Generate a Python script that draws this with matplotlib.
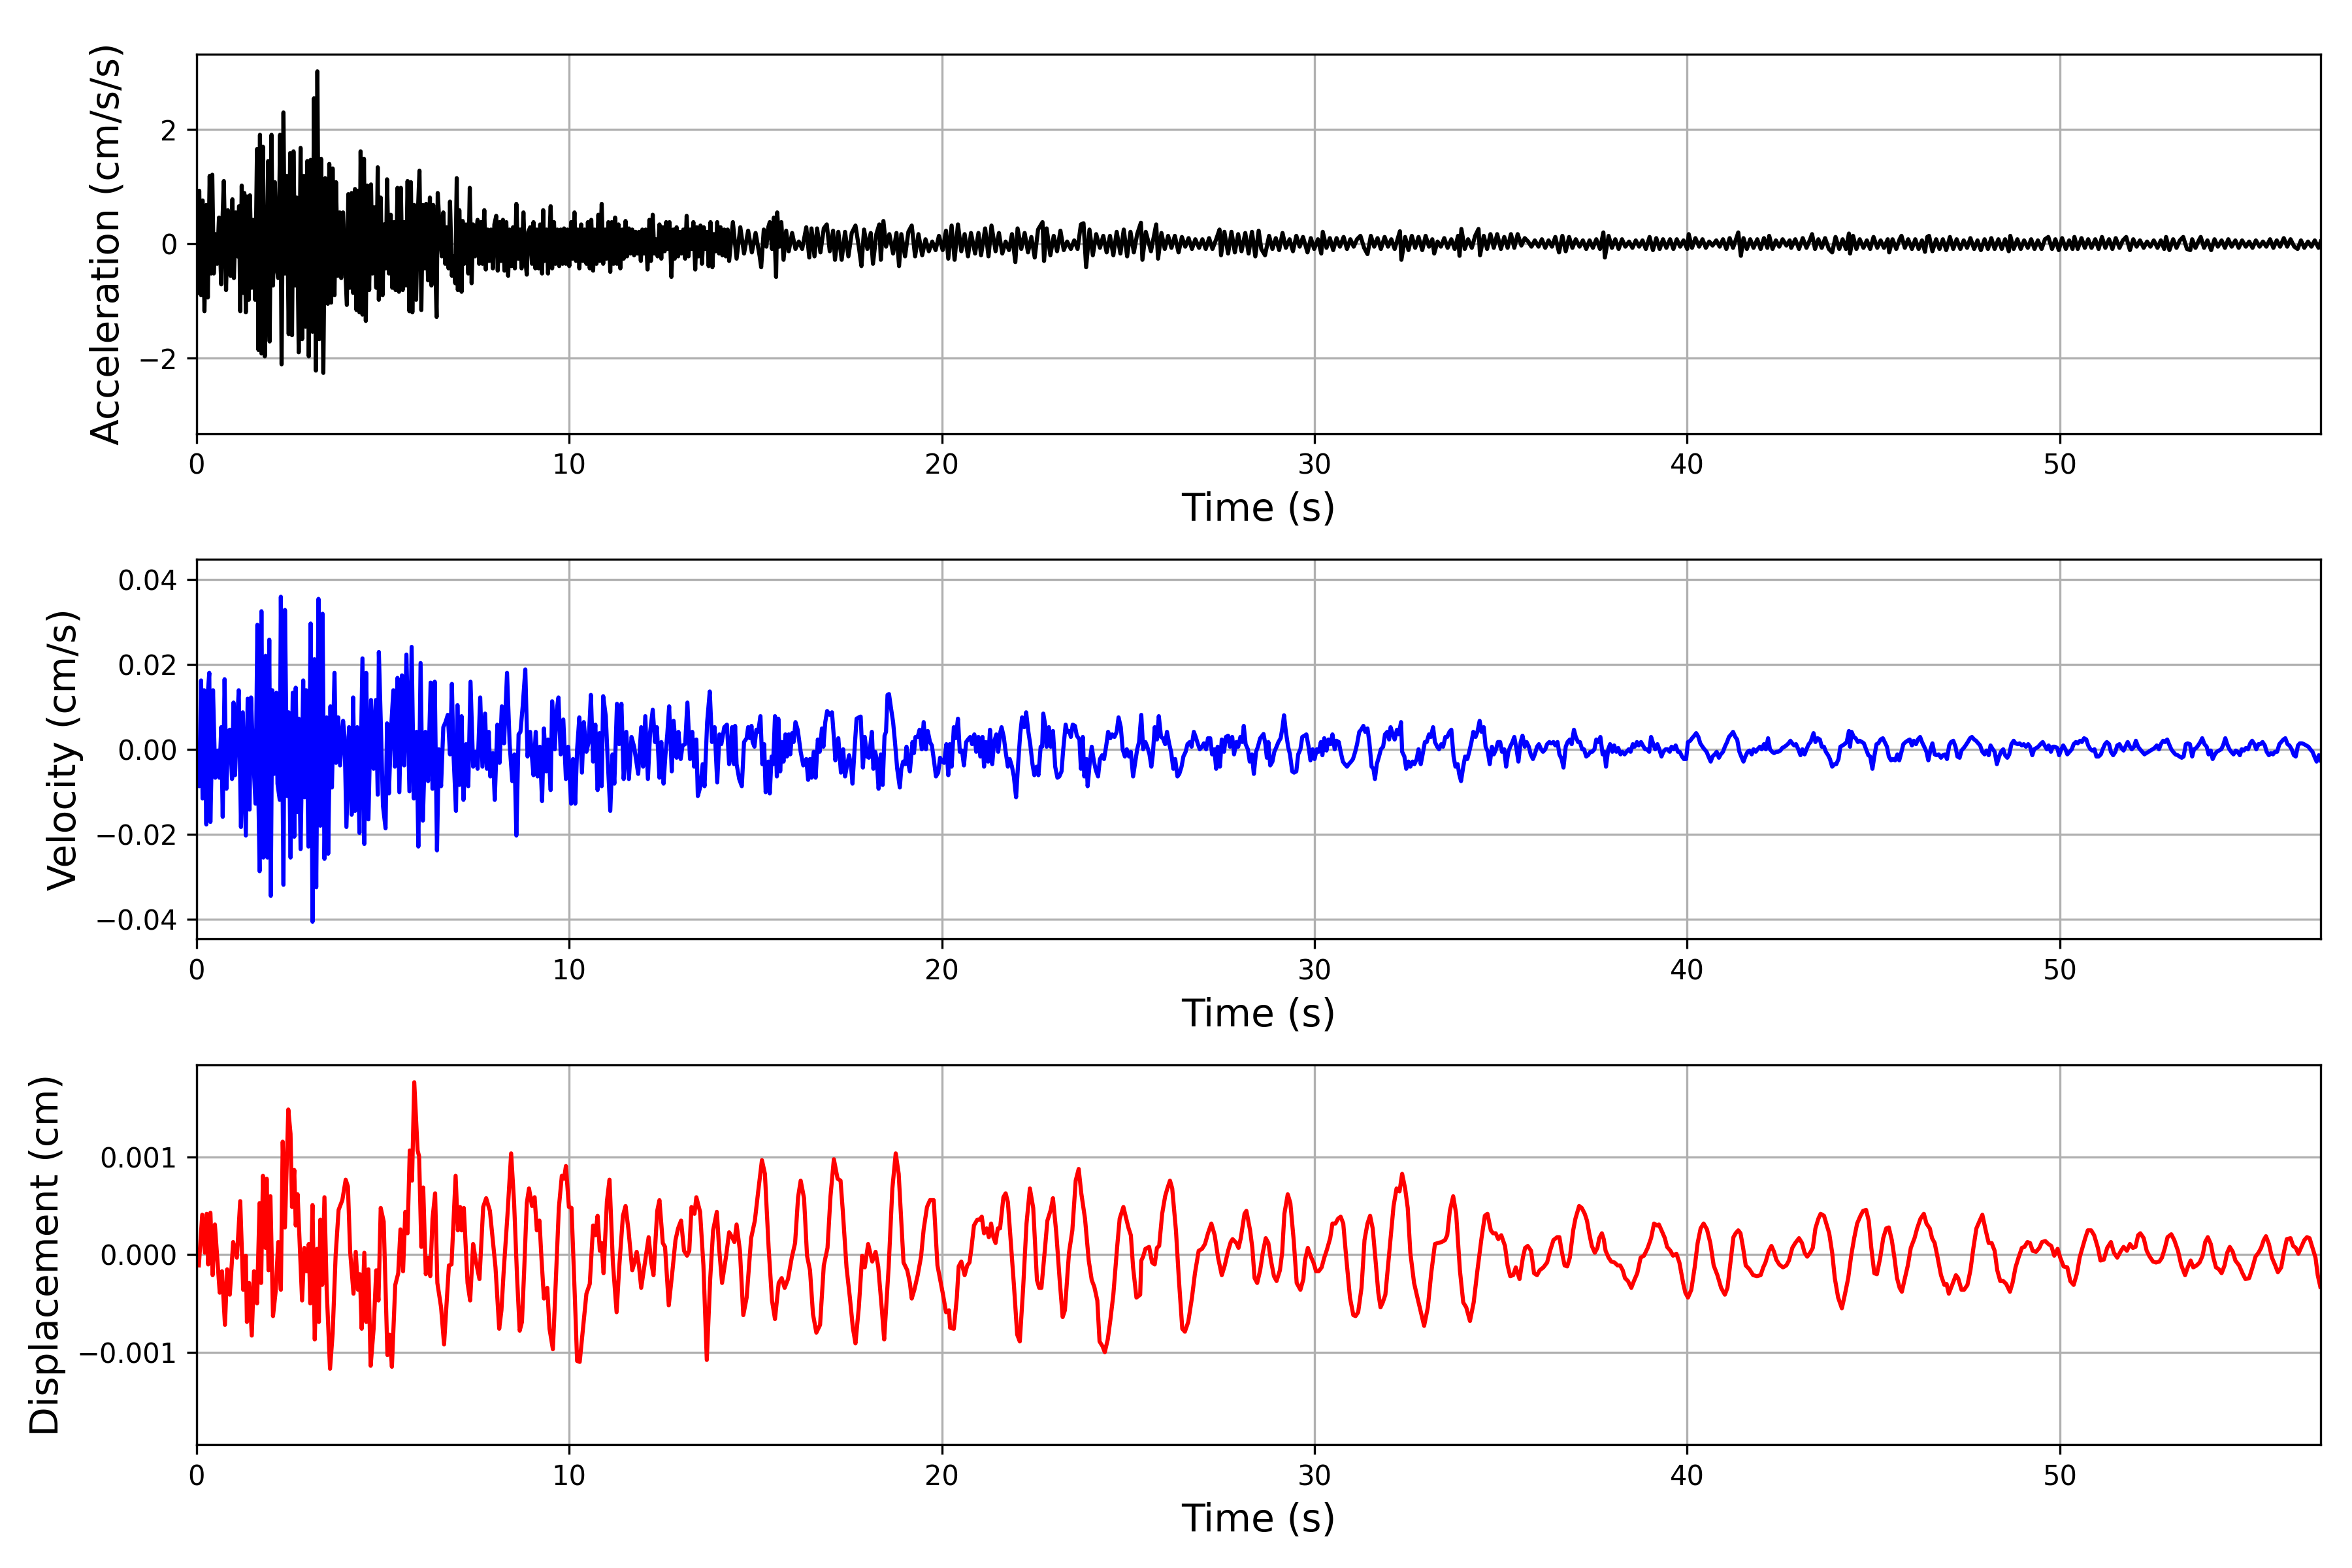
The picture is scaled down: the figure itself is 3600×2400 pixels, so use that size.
import numpy as np
import matplotlib.pyplot as plt

# values, as (time s, value) pairs

# acceleration, cm/s/s
acc_0_14 = [
    (0.03, -0.86), (0.07, 0.93), (0.12, -0.90), (0.16, 0.76), (0.21, -1.18), (0.26, 0.68), (0.30, -0.94),
    (0.35, 1.19), (0.39, -0.52), (0.42, 1.21), (0.46, -0.52), (0.50, 0.17), (0.55, -0.35), (0.60, 0.46),
    (0.66, -0.71), (0.69, 0.34), (0.73, 1.10), (0.79, -0.81), (0.84, 0.59), (0.88, -0.22), (0.91, -0.56),
    (0.96, 0.78), (1.00, -0.60), (1.05, 0.55), (1.10, -0.22), (1.14, 0.66), (1.17, -1.18), (1.21, 1.02),
    (1.25, -0.86), (1.28, 0.89), (1.32, -1.20), (1.35, 0.83), (1.40, -0.98), (1.43, 0.85), (1.48, -0.77),
    (1.52, 0.42), (1.57, -0.98), (1.62, 1.66), (1.66, -1.86), (1.70, 1.91), (1.74, -1.92), (1.78, 1.70),
    (1.83, -1.97), (1.87, -0.94), (1.92, 1.45), (1.96, -1.71), (2.01, 1.91), (2.05, -0.73), (2.10, 1.08),
    (2.15, -0.43), (2.19, -0.60), (2.24, 1.91), (2.28, -2.11), (2.33, 2.30), (2.37, -0.52), (2.42, 1.19),
    (2.47, -1.58), (2.51, 1.59), (2.56, -1.60), (2.60, 1.62), (2.65, -0.73), (2.69, 0.81), (2.74, -1.90),
    (2.79, 1.68), (2.83, -1.67), (2.88, 1.19), (2.92, -1.45), (2.97, 1.45), (3.01, -1.97), (3.06, 1.47),
    (3.11, -1.54), (3.15, 2.55), (3.20, -2.22), (3.24, 3.02), (3.29, -1.67), (3.34, 1.49), (3.40, -2.26),
    (3.45, 1.15), (3.52, -1.05), (3.56, 1.40), (3.61, -1.03), (3.65, 1.32), (3.70, -0.90), (3.74, 1.08),
    (3.79, -0.56), (3.84, 0.55), (3.88, -0.60), (3.93, 0.55), (3.98, -0.26), (4.03, -1.07), (4.07, 0.87),
    (4.11, -0.77), (4.16, 0.89), (4.20, -0.86), (4.25, 0.96), (4.29, -1.16), (4.33, 0.93), (4.37, -1.20),
    (4.40, 1.62), (4.45, -1.24), (4.49, 1.49), (4.54, -1.35), (4.58, 1.02), (4.63, -0.81), (4.68, 1.04),
    (4.72, -0.52), (4.77, 0.64), (4.82, -0.77), (4.86, 1.34), (4.89, -0.98), (4.94, 0.81), (4.99, -0.90),
    (5.03, 0.34), (5.08, -0.43), (5.11, 1.13), (5.16, -0.52), (5.21, 0.51), (5.25, -0.77), (5.30, 0.38),
    (5.34, -0.81), (5.39, 0.98), (5.43, -0.84), (5.48, 0.98), (5.53, -0.81), (5.57, 0.38), (5.62, -0.73),
    (5.66, 1.10), (5.71, -1.18), (5.75, 1.08), (5.79, -1.20), (5.84, 0.68), (5.89, -0.98), (5.94, 0.59),
    (5.98, 1.28), (6.03, -1.16), (6.07, 0.68), (6.12, -0.43), (6.16, 0.70), (6.21, -0.64), (6.26, 0.81),
    (6.30, -0.73), (6.35, 0.68), (6.39, 0.00), (6.44, -1.28), (6.47, 0.89), (6.53, 0.17), (6.58, -0.22),
    (6.62, 0.55), (6.67, -0.35), (6.71, 0.29), (6.76, -0.43), (6.80, 0.74), (6.85, -0.56), (6.89, -0.22),
    (6.94, -0.69), (6.98, 1.15), (7.01, -0.81), (7.05, 0.59), (7.11, -0.84), (7.14, 0.40), (7.18, -0.35),
    (7.23, 0.34), (7.29, -0.52), (7.33, 0.98), (7.38, -0.69), (7.42, 0.34), (7.47, -0.22), (7.51, 0.25),
    (7.54, 0.42), (7.58, -0.35), (7.63, 0.38), (7.67, -0.35), (7.72, 0.59), (7.76, -0.45), (7.81, 0.25),
    (7.85, -0.30), (7.90, 0.25), (7.95, -0.43), (7.99, 0.34), (8.04, 0.49), (8.08, -0.47), (8.13, 0.38),
    (8.17, -0.30), (8.22, 0.42), (8.26, -0.47), (8.31, 0.38), (8.36, -0.56), (8.40, 0.25), (8.45, -0.39),
    (8.49, 0.29), (8.54, -0.43), (8.58, 0.70), (8.63, -0.26), (8.68, 0.25), (8.72, -0.43), (8.77, 0.55),
    (8.81, -0.22), (8.86, -0.54), (8.90, 0.21), (8.95, 0.29), (9.00, -0.35), (9.04, 0.38), (9.09, -0.43),
    (9.13, 0.25), (9.18, -0.43), (9.22, 0.34), (9.27, -0.52), (9.30, 0.59), (9.33, -0.30), (9.39, 0.25),
    (9.43, -0.52), (9.50, 0.66), (9.54, -0.43), (9.59, 0.38), (9.63, -0.35), (9.68, 0.25), (9.73, -0.39),
    (9.77, 0.25), (9.82, -0.35), (9.86, 0.27), (9.91, -0.35), (9.95, 0.25), (10.00, -0.39), (10.05, 0.38),
    (10.09, -0.26), (10.14, 0.55), (10.18, -0.30), (10.23, 0.25), (10.27, -0.43), (10.32, 0.34), (10.37, -0.30),
    (10.41, 0.25), (10.46, -0.35), (10.50, 0.38), (10.55, -0.43), (10.59, 0.42), (10.64, -0.47), (10.68, 0.25),
    (10.73, -0.35), (10.78, 0.51), (10.82, -0.30), (10.87, 0.70), (10.91, -0.35), (10.96, 0.25), (11.00, -0.26),
    (11.05, 0.38), (11.10, -0.49), (11.14, 0.38), (11.19, -0.35), (11.23, 0.46), (11.28, -0.35), (11.32, 0.34),
    (11.37, -0.43), (11.42, 0.25), (11.46, -0.26), (11.51, 0.40), (11.55, -0.22), (11.60, 0.27), (11.64, -0.17),
    (11.69, 0.25), (11.74, -0.20), (11.78, 0.21), (11.83, -0.17), (11.87, 0.21), (11.92, -0.30), (11.96, 0.25),
    (12.01, -0.17), (12.05, 0.25), (12.10, -0.45), (12.15, 0.42), (12.19, -0.30), (12.24, 0.51), (12.28, -0.17),
    (12.33, 0.08), (12.37, -0.22), (12.42, 0.34), (12.47, -0.26), (12.51, 0.29), (12.56, -0.13), (12.60, 0.38),
    (12.65, -0.09), (12.69, 0.38), (12.74, -0.58), (12.79, 0.25), (12.83, -0.26), (12.88, 0.29), (12.92, -0.22),
    (12.97, 0.21), (13.01, -0.17), (13.06, 0.25), (13.11, -0.26), (13.15, 0.49), (13.20, -0.22), (13.24, 0.25),
    (13.29, -0.09), (13.33, 0.38), (13.38, -0.45), (13.42, 0.29), (13.47, -0.22), (13.52, 0.32), (13.56, -0.35),
    (13.61, 0.29), (13.65, -0.09), (13.70, 0.21), (13.74, -0.39), (13.79, 0.38), (13.84, -0.41), (13.88, 0.17),
    (13.93, -0.13), (13.97, 0.38), (14.02, -0.17), (14.06, 0.29), (14.11, -0.20), (14.16, 0.25), (14.20, -0.22),
    (14.25, 0.25),
]
acc_14_28 = [
    (14.29, -0.30), (14.39, 0.38), (14.49, -0.26), (14.59, 0.29), (14.69, -0.17), (14.80, 0.23), (14.90, -0.15),
    (15.00, 0.19), (15.11, -0.22), (15.15, -0.41), (15.22, 0.25), (15.29, -0.05), (15.34, 0.29), (15.38, 0.38),
    (15.44, -0.09), (15.49, 0.46), (15.55, -0.58), (15.58, 0.55), (15.64, -0.05), (15.69, 0.38), (15.75, -0.28),
    (15.82, 0.23), (15.89, -0.13), (15.98, 0.19), (16.07, -0.09), (16.16, 0.04), (16.25, -0.09), (16.36, 0.29),
    (16.44, -0.24), (16.50, 0.27), (16.58, -0.22), (16.65, 0.27), (16.74, -0.15), (16.83, 0.27), (16.91, 0.34),
    (16.99, -0.13), (17.08, 0.23), (17.13, -0.28), (17.22, 0.21), (17.31, -0.28), (17.40, 0.21), (17.49, -0.22),
    (17.58, 0.19), (17.68, 0.32), (17.77, -0.05), (17.84, -0.39), (17.91, 0.25), (18.00, -0.09), (18.09, 0.19),
    (18.15, -0.35), (18.24, 0.17), (18.32, 0.34), (18.36, -0.28), (18.43, 0.40), (18.50, -0.05), (18.59, 0.17),
    (18.69, -0.17), (18.78, 0.19), (18.85, -0.39), (18.91, 0.17), (19.01, -0.22), (19.10, 0.21), (19.19, 0.32),
    (19.28, -0.22), (19.37, 0.17), (19.47, -0.20), (19.56, 0.08), (19.65, -0.13), (19.74, 0.04), (19.83, -0.11),
    (19.92, 0.14), (20.02, -0.11), (20.11, 0.23), (20.17, -0.26), (20.26, 0.32), (20.34, -0.28), (20.43, 0.34),
    (20.52, -0.13), (20.61, 0.17), (20.70, -0.22), (20.78, 0.19), (20.89, -0.17), (20.98, 0.19), (21.05, -0.20),
    (21.16, 0.27), (21.25, -0.22), (21.33, 0.32), (21.44, -0.13), (21.53, 0.19), (21.62, -0.17), (21.71, 0.04),
    (21.80, -0.11), (21.88, 0.17), (21.97, -0.32), (22.03, 0.27), (22.13, -0.09), (22.22, 0.19), (22.31, -0.15),
    (22.40, 0.12), (22.49, -0.24), (22.58, 0.25), (22.70, 0.38), (22.74, -0.30), (22.81, 0.27), (22.91, -0.20),
    (23.00, 0.14), (23.09, -0.13), (23.18, 0.23), (23.27, -0.11), (23.36, 0.04), (23.46, -0.09), (23.55, 0.06),
    (23.64, -0.09), (23.73, 0.34), (23.80, 0.36), (23.87, -0.41), (23.96, 0.25), (24.05, -0.20), (24.14, 0.17),
    (24.24, -0.07), (24.33, 0.14), (24.42, -0.15), (24.51, 0.14), (24.60, -0.20), (24.69, 0.21), (24.79, -0.17),
    (24.88, 0.25), (24.97, -0.22), (25.06, 0.21), (25.15, -0.15), (25.24, 0.17), (25.34, 0.37), (25.38, -0.28),
    (25.47, 0.21), (25.61, -0.13), (25.75, 0.34), (25.80, -0.26), (25.89, 0.19), (25.98, -0.09), (26.07, 0.14),
    (26.16, -0.07), (26.25, 0.14), (26.35, -0.15), (26.44, 0.12), (26.53, -0.05), (26.62, 0.10), (26.71, -0.09),
    (26.80, 0.08), (26.90, -0.07), (26.99, 0.08), (27.08, -0.09), (27.17, 0.10), (27.26, -0.09), (27.36, 0.08),
    (27.45, 0.25), (27.49, -0.20), (27.58, 0.21), (27.68, -0.17), (27.77, 0.21), (27.86, -0.15), (27.95, 0.17),
    (28.04, -0.13), (28.14, 0.19), (28.23, -0.17), (28.32, 0.21), (28.41, -0.22), (28.50, 0.23),
]
acc_28_42 = [
    (28.57, -0.09), (28.67, -0.20), (28.78, 0.14), (28.87, -0.09), (28.96, 0.10), (29.05, -0.11), (29.14, 0.19),
    (29.23, -0.07), (29.33, 0.08), (29.42, -0.13), (29.51, 0.14), (29.60, -0.05), (29.69, 0.12), (29.81, -0.15),
    (29.90, 0.10), (29.99, -0.09), (30.09, 0.08), (30.18, -0.17), (30.22, 0.21), (30.32, -0.07), (30.41, 0.10),
    (30.50, -0.11), (30.59, 0.10), (30.68, -0.05), (30.78, 0.12), (30.87, -0.09), (30.96, 0.08), (31.05, -0.05),
    (31.14, 0.08), (31.23, 0.14), (31.33, -0.07), (31.42, -0.18), (31.51, 0.14), (31.60, -0.05), (31.69, 0.10),
    (31.78, -0.09), (31.88, 0.12), (31.97, -0.05), (32.06, 0.08), (32.15, -0.09), (32.29, 0.22), (32.33, -0.28),
    (32.43, 0.12), (32.52, -0.11), (32.61, 0.14), (32.70, -0.07), (32.79, 0.12), (32.89, -0.11), (32.98, 0.14),
    (33.07, -0.05), (33.16, 0.08), (33.21, -0.17), (33.30, 0.04), (33.39, -0.05), (33.48, 0.10), (33.57, -0.07),
    (33.67, 0.08), (33.76, -0.09), (33.85, 0.14), (33.89, -0.21), (33.94, 0.26), (34.03, -0.09), (34.12, 0.08),
    (34.22, -0.07), (34.31, 0.14), (34.40, 0.26), (34.44, -0.20), (34.54, 0.14), (34.63, -0.09), (34.72, 0.17),
    (34.81, -0.07), (34.90, 0.17), (35.00, -0.09), (35.09, 0.12), (35.18, -0.07), (35.27, 0.17), (35.36, -0.07),
    (35.45, 0.17), (35.55, -0.03), (35.64, 0.10), (35.73, 0.04), (35.82, -0.05), (35.91, 0.06), (36.01, -0.05),
    (36.10, 0.08), (36.19, -0.07), (36.28, 0.06), (36.37, -0.05), (36.46, 0.12), (36.56, -0.15), (36.65, 0.14),
    (36.74, -0.13), (36.83, 0.12), (36.92, -0.07), (37.01, 0.08), (37.11, -0.05), (37.20, 0.06), (37.29, -0.09),
    (37.38, 0.06), (37.47, -0.07), (37.56, 0.08), (37.66, -0.09), (37.75, 0.20), (37.79, -0.24), (37.89, 0.14),
    (37.98, -0.07), (38.07, 0.08), (38.16, -0.09), (38.25, 0.08), (38.34, -0.05), (38.44, 0.04), (38.53, -0.07),
    (38.62, 0.06), (38.71, -0.05), (38.80, 0.06), (38.89, -0.09), (38.99, 0.12), (39.08, -0.11), (39.17, 0.10),
    (39.26, -0.09), (39.35, 0.08), (39.44, -0.07), (39.54, 0.08), (39.63, -0.09), (39.72, 0.08), (39.81, -0.05),
    (39.90, 0.06), (40.00, -0.09), (40.04, 0.17), (40.13, -0.07), (40.22, 0.10), (40.32, -0.05), (40.41, 0.08),
    (40.50, -0.07), (40.59, 0.04), (40.68, -0.03), (40.78, 0.06), (40.87, -0.05), (40.96, 0.08), (41.05, -0.09),
    (41.14, 0.10), (41.23, -0.07), (41.33, 0.12), (41.37, 0.20), (41.44, -0.21), (41.51, 0.10), (41.60, -0.09),
    (41.69, 0.08), (41.78, -0.07), (41.88, 0.08), (41.97, -0.09), (42.06, 0.10), (42.15, -0.07), (42.20, 0.14),
    (42.29, -0.09), (42.38, 0.06), (42.47, -0.05), (42.56, 0.08), (42.66, -0.03), (42.75, 0.06),
]
acc_42_57 = [
    (42.79, -0.07), (42.90, 0.08), (43.00, -0.09), (43.10, 0.10), (43.20, -0.07), (43.30, 0.08), (43.35, 0.17),
    (43.43, -0.09), (43.52, 0.08), (43.61, -0.07), (43.70, 0.10), (43.80, -0.09), (43.89, -0.15), (43.98, 0.12),
    (44.08, -0.09), (44.17, 0.08), (44.26, -0.09), (44.34, 0.18), (44.37, -0.17), (44.45, 0.14), (44.54, -0.09),
    (44.63, 0.08), (44.73, -0.07), (44.82, 0.06), (44.91, -0.09), (45.00, 0.12), (45.10, -0.07), (45.19, 0.06),
    (45.28, -0.07), (45.38, 0.08), (45.42, -0.15), (45.51, 0.08), (45.61, -0.09), (45.70, 0.08), (45.75, 0.14),
    (45.84, -0.07), (45.93, 0.08), (46.03, -0.09), (46.12, 0.08), (46.21, -0.09), (46.30, 0.06), (46.38, -0.14),
    (46.44, 0.12), (46.49, 0.14), (46.58, -0.13), (46.68, 0.08), (46.77, -0.09), (46.86, 0.08), (46.95, -0.11),
    (47.05, 0.12), (47.14, -0.09), (47.23, 0.08), (47.33, -0.09), (47.42, 0.06), (47.51, -0.07), (47.60, 0.10),
    (47.70, -0.09), (47.79, 0.06), (47.88, -0.11), (47.98, 0.08), (48.07, -0.09), (48.16, 0.10), (48.25, -0.09),
    (48.35, 0.08), (48.44, -0.09), (48.53, 0.08), (48.63, -0.13), (48.67, 0.14), (48.76, -0.09), (48.86, 0.08),
    (48.95, -0.09), (49.04, 0.06), (49.14, -0.07), (49.23, 0.08), (49.32, -0.09), (49.41, 0.06), (49.51, -0.09),
    (49.60, 0.08), (49.69, 0.12), (49.79, -0.09), (49.88, 0.08), (49.97, -0.11), (50.06, 0.10), (50.16, -0.09),
    (50.25, 0.06), (50.34, -0.09), (50.39, 0.12), (50.48, -0.09), (50.58, 0.10), (50.67, -0.07), (50.76, 0.08),
    (50.85, -0.07), (50.95, 0.08), (51.04, -0.09), (51.13, 0.12), (51.22, -0.07), (51.32, 0.08), (51.41, -0.09),
    (51.50, 0.10), (51.60, -0.07), (51.69, 0.06), (51.78, 0.12), (51.88, -0.11), (51.97, 0.08), (52.06, -0.05),
    (52.15, 0.06), (52.25, -0.07), (52.34, 0.04), (52.43, -0.05), (52.52, 0.06), (52.62, -0.07), (52.71, 0.06),
    (52.80, -0.09), (52.85, 0.12), (52.94, -0.11), (53.04, 0.08), (53.13, -0.07), (53.22, 0.06), (53.31, 0.12),
    (53.41, -0.09), (53.50, -0.11), (53.55, 0.08), (53.64, -0.07), (53.73, 0.06), (53.78, 0.12), (53.87, -0.07),
    (53.96, 0.06), (54.06, -0.11), (54.15, 0.08), (54.24, -0.05), (54.34, 0.06), (54.43, -0.07), (54.52, 0.08),
    (54.61, -0.05), (54.71, 0.06), (54.80, -0.07), (54.89, 0.06), (54.99, -0.05), (55.08, 0.04), (55.17, -0.07),
    (55.26, 0.06), (55.36, -0.05), (55.45, 0.04), (55.54, -0.05), (55.64, 0.08), (55.73, -0.07), (55.82, 0.06),
    (55.91, -0.05), (56.01, 0.10), (56.10, -0.05), (56.19, 0.08), (56.29, -0.05), (56.38, -0.09), (56.47, 0.06),
    (56.56, -0.07), (56.66, 0.04), (56.75, -0.05), (56.84, 0.06), (56.94, -0.07), (57.00, 0.04),
]

# velocity, in units of 0.01 cm/s
vel_0_14 = [
    (0.00, 0.00), (0.07, -0.87), (0.12, 1.62), (0.16, -1.16), (0.20, 1.39), (0.26, -1.77), (0.30, 1.33),
    (0.34, 1.80), (0.37, -1.71), (0.41, 0.00), (0.44, 1.39), (0.50, -0.67), (0.57, -0.03), (0.61, -0.67),
    (0.66, 0.52), (0.70, -1.59), (0.75, 1.65), (0.80, -0.93), (0.85, 0.43), (0.89, 0.46), (0.95, -0.70),
    (0.99, 1.10), (1.03, -0.61), (1.08, 0.52), (1.13, 1.39), (1.19, -1.83), (1.24, 0.87), (1.32, -2.03),
    (1.37, 1.19), (1.42, -1.42), (1.46, 1.22), (1.51, 0.00), (1.58, -1.28), (1.63, 2.93), (1.66, -1.22),
    (1.69, -2.87), (1.74, 3.25), (1.79, -2.55), (1.85, 2.20), (1.90, -2.55), (1.95, 2.58), (1.99, -3.45),
    (2.03, 1.39), (2.08, -0.58), (2.14, 1.33), (2.17, -0.81), (2.23, -1.19), (2.26, 3.59), (2.33, -3.19),
    (2.37, 3.28), (2.43, -1.10), (2.47, 0.87), (2.52, -2.55), (2.58, 1.33), (2.62, -2.06), (2.66, 1.45),
    (2.71, -1.48), (2.74, 0.72), (2.79, -2.35), (2.86, 1.62), (2.90, -1.13), (2.94, 1.39), (3.00, -2.29),
    (3.06, 2.96), (3.11, -4.06), (3.16, 2.12), (3.21, -3.25), (3.27, 3.54), (3.32, -1.80), (3.38, 3.19),
    (3.43, -2.58), (3.49, 0.75), (3.53, -2.46), (3.59, 1.01), (3.63, -0.90), (3.70, 1.80), (3.74, -0.32),
    (3.80, 0.75), (3.85, -0.38), (3.93, 0.67), (3.97, 0.29), (4.02, -1.83), (4.09, 0.52), (4.16, -1.54),
    (4.20, 1.22), (4.25, -1.45), (4.31, 0.52), (4.37, -1.97), (4.45, 2.14), (4.50, -2.23), (4.55, 1.80),
    (4.61, -1.65), (4.68, 1.16), (4.75, -0.46), (4.81, 1.16), (4.86, -1.07), (4.89, 2.29), (4.94, 0.70),
    (5.00, -1.33), (5.07, -1.86), (5.11, 0.61), (5.16, -1.04), (5.22, 0.52), (5.28, 1.39), (5.32, -0.41),
    (5.39, 1.68), (5.44, -1.01), (5.51, 1.74), (5.57, -0.38), (5.63, 2.23), (5.71, -0.99), (5.77, 2.41),
    (5.83, -1.16), (5.90, 0.41), (5.95, -2.29), (6.01, 2.03), (6.07, -1.68), (6.14, 0.41), (6.21, -0.75),
    (6.28, 1.57), (6.33, -0.93), (6.39, 1.59), (6.45, -2.38), (6.50, 0.00), (6.56, -0.87), (6.62, 0.52),
    (6.68, 0.64), (6.74, 0.81), (6.80, -0.12), (6.85, 1.54), (6.89, -0.06), (6.96, -1.45), (7.00, 1.04),
    (7.05, -0.84), (7.11, 0.78), (7.16, -1.19), (7.23, 0.12), (7.29, -0.87), (7.35, 1.59), (7.42, -0.41),
    (7.49, -0.06), (7.54, -0.46), (7.61, 1.22), (7.67, -0.41), (7.74, 0.84), (7.79, -0.46), (7.84, 0.41),
    (7.88, -0.64), (7.95, -0.09), (8.00, -1.19), (8.07, 0.58), (8.13, -0.32), (8.19, 1.01), (8.25, 0.14),
    (8.33, 1.80), (8.40, 0.12), (8.47, -0.75), (8.53, -0.12), (8.58, -2.03), (8.64, 0.35), (8.69, 0.41),
    (8.75, 1.01), (8.82, 1.88), (8.88, -0.17), (8.95, 0.41), (9.00, -0.20), (9.04, -0.61), (9.10, 0.41),
    (9.15, -0.64), (9.21, 0.06), (9.27, -1.22), (9.32, 0.49), (9.38, -0.52), (9.43, 0.23), (9.50, -0.96),
    (9.54, 1.13), (9.61, 0.00), (9.66, 0.90), (9.71, 1.22), (9.77, -0.12), (9.84, 0.70), (9.91, -0.70),
    (9.97, 0.06), (10.05, -1.28), (10.10, -0.23), (10.16, -1.28), (10.21, 0.00), (10.27, 0.75), (10.34, -0.55),
    (10.39, 0.64), (10.46, -0.06), (10.52, 0.17), (10.58, 1.28), (10.64, -0.29), (10.70, 0.58), (10.76, -0.96),
    (10.81, 0.38), (10.87, -0.87), (10.91, 1.25), (10.98, 0.78), (11.03, -0.23), (11.10, -1.45), (11.16, -0.12),
    (11.21, -0.81), (11.28, 1.07), (11.34, 0.12), (11.40, 1.07), (11.46, -0.70), (11.53, 0.41), (11.60, -0.70),
    (11.67, 0.29), (11.74, 0.06), (11.80, -0.29), (11.85, -0.58), (11.93, 0.52), (11.98, -0.41), (12.04, 0.78),
    (12.11, -0.70), (12.17, 0.41), (12.24, 0.93), (12.30, 0.17), (12.35, 0.52), (12.42, -0.67), (12.47, 0.17),
    (12.53, -0.81), (12.58, -0.14), (12.63, 0.35), (12.68, 1.01), (12.75, -0.52), (12.80, 0.67), (12.88, -0.20),
    (12.93, 0.41), (12.99, -0.23), (13.04, 0.09), (13.11, 0.12), (13.17, 1.10), (13.24, -0.23), (13.30, 0.41),
    (13.35, -0.41), (13.41, 0.23), (13.45, -1.10), (13.52, -0.87), (13.58, -0.35), (13.63, -0.87), (13.70, 0.64),
    (13.77, 1.36), (13.83, 0.17), (13.90, 0.52), (13.97, -0.78), (14.03, 0.35), (14.08, 0.12), (14.16, 0.52),
    (14.23, 0.58), (14.29, -0.35),
]
vel_14_28 = [
    (14.33, -0.17), (14.37, 0.52), (14.42, -0.35), (14.45, 0.55), (14.49, -0.35), (14.56, -0.70), (14.63, -0.87),
    (14.69, 0.17), (14.76, 0.26), (14.80, 0.52), (14.85, 0.26), (14.89, 0.55), (14.92, 0.17), (14.97, 0.06),
    (15.02, 0.46), (15.07, 0.41), (15.13, 0.78), (15.18, -0.35), (15.23, 0.12), (15.27, -1.01), (15.34, -0.29),
    (15.38, -1.04), (15.43, -0.17), (15.47, -0.35), (15.52, 0.78), (15.57, -0.64), (15.61, 0.72), (15.66, -0.52),
    (15.70, 0.17), (15.75, -0.29), (15.80, 0.35), (15.84, -0.17), (15.89, 0.35), (15.93, -0.12), (15.98, 0.38),
    (16.02, 0.17), (16.07, 0.64), (16.13, 0.46), (16.21, -0.06), (16.28, -0.38), (16.36, -0.23), (16.41, -0.72),
    (16.46, -0.23), (16.50, -0.67), (16.56, -0.06), (16.61, -0.67), (16.67, 0.23), (16.72, -0.06), (16.78, 0.49),
    (16.82, 0.06), (16.87, 0.64), (16.92, 0.90), (16.99, 0.81), (17.05, 0.87), (17.11, 0.17), (17.14, -0.26),
    (17.22, 0.26), (17.29, -0.55), (17.35, 0.00), (17.40, -0.64), (17.46, -0.35), (17.51, -0.14), (17.56, -0.38),
    (17.60, -0.81), (17.66, 0.06), (17.71, 0.72), (17.77, 0.75), (17.82, 0.77), (17.88, -0.43), (17.93, 0.29),
    (17.99, -0.17), (18.04, -0.20), (18.12, 0.41), (18.16, -0.46), (18.21, -0.06), (18.25, -0.23), (18.30, -0.93),
    (18.36, -0.12), (18.41, -0.84), (18.46, 0.32), (18.50, 0.41), (18.54, 1.28), (18.58, 1.30), (18.63, 0.99),
    (18.69, 0.64), (18.74, 0.17), (18.80, -0.46), (18.87, -0.90), (18.91, -0.46), (18.96, -0.29), (19.01, -0.35),
    (19.05, 0.06), (19.10, -0.35), (19.14, -0.52), (19.21, 0.17), (19.25, -0.09), (19.29, 0.29), (19.35, 0.29),
    (19.40, 0.46), (19.46, 0.00), (19.51, 0.64), (19.57, 0.00), (19.62, 0.43), (19.68, 0.17), (19.73, 0.09),
    (19.79, -0.29), (19.84, -0.64), (19.90, -0.55), (19.95, -0.20), (20.01, -0.29), (20.06, -0.32), (20.12, 0.12),
    (20.17, -0.61), (20.21, 0.12), (20.26, -0.41), (20.32, 0.52), (20.37, 0.26), (20.43, 0.72), (20.48, -0.06),
    (20.54, -0.03), (20.59, -0.38), (20.65, 0.17), (20.70, 0.23), (20.76, 0.29), (20.81, 0.12), (20.87, 0.35),
    (20.92, -0.06), (20.98, 0.29), (21.03, -0.17), (21.09, 0.29), (21.13, -0.41), (21.18, 0.17), (21.24, -0.29),
    (21.29, 0.46), (21.35, -0.35), (21.40, 0.17), (21.46, 0.35), (21.51, -0.06), (21.57, 0.41), (21.60, 0.52),
    (21.66, 0.29), (21.71, -0.06), (21.77, -0.41), (21.82, -0.23), (21.88, -0.41), (21.93, -0.64), (21.99, -1.13),
    (22.04, -0.41), (22.10, 0.35), (22.15, 0.75), (22.21, 0.52), (22.26, 0.87), (22.32, 0.41), (22.37, 0.12),
    (22.43, -0.35), (22.48, -0.61), (22.54, -0.41), (22.59, -0.61), (22.65, 0.06), (22.69, 0.06), (22.72, 0.84),
    (22.77, 0.58), (22.81, 0.06), (22.87, 0.52), (22.92, 0.06), (22.98, 0.43), (23.04, -0.41), (23.10, -0.67),
    (23.15, -0.64), (23.21, -0.52), (23.25, -0.06), (23.32, 0.58), (23.36, 0.41), (23.42, 0.43), (23.46, 0.29),
    (23.51, 0.58), (23.57, 0.55), (23.62, 0.32), (23.69, 0.23), (23.73, -0.46), (23.78, 0.29), (23.82, -0.64),
    (23.88, -0.23), (23.91, -0.87), (23.97, -0.29), (24.02, 0.06), (24.08, -0.29), (24.13, -0.49), (24.19, -0.64),
    (24.24, -0.23), (24.30, -0.14), (24.35, -0.23), (24.41, 0.09), (24.46, 0.41), (24.52, 0.26), (24.57, 0.35),
    (24.63, 0.29), (24.69, 0.41), (24.74, 0.75), (24.80, 0.52), (24.85, 0.00), (24.91, -0.17), (24.96, 0.00),
    (25.02, -0.17), (25.07, -0.06), (25.13, -0.64), (25.18, -0.35), (25.24, 0.00), (25.29, 0.17), (25.35, 0.81),
    (25.40, 0.00), (25.46, 0.17), (25.51, 0.06), (25.57, -0.12), (25.62, -0.41), (25.66, -0.12), (25.71, 0.52),
    (25.77, 0.23), (25.82, 0.78), (25.88, 0.29), (25.93, 0.26), (25.99, 0.12), (26.04, 0.41), (26.10, 0.12),
    (26.15, -0.06), (26.21, -0.46), (26.26, -0.23), (26.32, -0.64), (26.37, -0.58), (26.43, -0.41), (26.48, -0.17),
    (26.54, -0.06), (26.59, 0.12), (26.65, 0.17), (26.70, 0.06), (26.76, 0.41), (26.81, 0.29), (26.87, 0.12),
    (26.92, 0.00), (26.98, 0.06), (27.03, 0.14), (27.09, 0.00), (27.14, 0.26), (27.20, 0.26), (27.25, -0.12),
    (27.31, 0.00), (27.36, -0.46), (27.40, 0.06), (27.46, -0.41), (27.51, 0.23), (27.57, -0.06), (27.62, 0.29),
    (27.68, 0.32), (27.73, 0.06), (27.79, 0.29), (27.84, -0.12), (27.90, 0.17), (27.95, 0.06), (28.01, 0.29),
    (28.06, 0.17), (28.10, 0.55), (28.15, 0.12), (28.21, 0.00), (28.26, -0.29), (28.32, -0.12), (28.37, -0.58),
    (28.43, -0.06), (28.48, 0.06), (28.54, 0.26),
]
vel_28_42 = [
    (28.57, 0.29), (28.63, 0.36), (28.68, 0.12), (28.72, -0.20), (28.76, 0.17), (28.81, -0.38), (28.87, -0.29),
    (28.92, -0.06), (28.98, 0.06), (29.03, 0.17), (29.09, 0.26), (29.14, 0.52), (29.18, 0.80), (29.23, 0.41),
    (29.29, 0.06), (29.34, -0.12), (29.40, -0.52), (29.45, -0.55), (29.51, -0.52), (29.56, -0.12), (29.62, 0.00),
    (29.67, 0.29), (29.73, 0.32), (29.78, 0.35), (29.84, 0.06), (29.89, -0.26), (29.95, 0.00), (30.00, -0.23),
    (30.06, 0.00), (30.11, -0.06), (30.17, 0.17), (30.21, -0.14), (30.26, 0.26), (30.32, -0.03), (30.37, 0.23),
    (30.43, 0.12), (30.48, 0.35), (30.54, 0.00), (30.59, 0.20), (30.65, 0.17), (30.70, -0.06), (30.76, -0.29),
    (30.81, -0.35), (30.87, -0.41), (30.92, -0.35), (30.98, -0.29), (31.03, -0.23), (31.09, -0.06), (31.14, 0.12),
    (31.20, 0.41), (31.25, 0.46), (31.31, 0.55), (31.36, 0.41), (31.42, 0.49), (31.47, 0.17), (31.53, -0.41),
    (31.58, -0.46), (31.62, -0.70), (31.67, -0.35), (31.73, -0.17), (31.78, 0.00), (31.84, 0.06), (31.89, 0.35),
    (31.95, 0.41), (32.00, 0.23), (32.04, 0.52), (32.10, 0.35), (32.15, 0.23), (32.21, 0.46), (32.26, 0.35),
    (32.32, 0.64), (32.35, -0.06), (32.41, -0.17), (32.46, -0.46), (32.52, -0.29), (32.57, -0.41), (32.63, -0.29),
    (32.68, -0.35), (32.74, -0.23), (32.79, 0.00), (32.85, -0.35), (32.90, -0.12), (32.96, 0.17), (33.01, 0.17),
    (33.07, 0.35), (33.12, 0.29), (33.18, 0.52), (33.23, 0.17), (33.29, 0.06), (33.34, 0.00), (33.40, 0.12),
    (33.45, 0.06), (33.51, 0.29), (33.56, 0.29), (33.62, 0.41), (33.67, 0.46), (33.73, -0.17), (33.78, -0.41),
    (33.84, -0.35), (33.88, -0.58), (33.93, -0.75), (33.99, -0.41), (34.04, -0.17), (34.10, -0.23), (34.15, -0.06),
    (34.21, 0.17), (34.26, 0.41), (34.32, 0.29), (34.37, 0.41), (34.43, 0.67), (34.48, 0.41), (34.54, 0.52),
    (34.59, 0.06), (34.65, -0.06), (34.70, -0.35), (34.76, 0.06), (34.81, -0.12), (34.87, 0.00), (34.92, 0.17),
    (34.98, 0.17), (35.03, -0.06), (35.09, 0.00), (35.14, -0.41), (35.20, -0.06), (35.25, 0.06), (35.31, 0.17),
    (35.36, 0.29), (35.42, 0.00), (35.47, -0.29), (35.53, 0.17), (35.58, 0.32), (35.64, 0.06), (35.69, 0.17),
    (35.75, 0.06), (35.80, -0.12), (35.86, -0.23), (35.91, -0.12), (35.97, 0.06), (36.02, 0.12), (36.08, 0.00),
    (36.13, -0.06), (36.19, 0.00), (36.24, 0.12), (36.30, 0.17), (36.35, 0.14), (36.41, 0.17), (36.46, 0.09),
    (36.52, 0.17), (36.57, -0.12), (36.63, -0.23), (36.68, -0.43), (36.74, 0.06), (36.79, 0.17), (36.85, 0.23),
    (36.90, 0.12), (36.96, 0.46), (37.01, 0.29), (37.07, 0.17), (37.12, 0.17), (37.18, 0.00), (37.23, 0.00),
    (37.29, -0.17), (37.34, -0.14), (37.40, -0.06), (37.45, -0.06), (37.51, 0.00), (37.56, 0.23), (37.62, 0.17),
    (37.67, 0.29), (37.73, -0.12), (37.78, -0.06), (37.82, -0.41), (37.88, 0.00), (37.93, 0.12), (37.99, -0.06),
    (38.04, 0.09), (38.10, -0.06), (38.15, 0.03), (38.21, -0.12), (38.26, -0.06), (38.32, -0.12), (38.37, -0.06),
    (38.43, 0.00), (38.48, -0.06), (38.54, 0.12), (38.59, 0.06), (38.65, 0.17), (38.70, 0.09), (38.76, 0.17),
    (38.81, 0.09), (38.87, 0.00), (38.92, 0.00), (38.98, -0.06), (39.03, 0.29), (39.09, 0.12), (39.14, 0.00),
    (39.20, 0.12), (39.25, 0.00), (39.31, -0.17), (39.36, -0.06), (39.42, 0.00), (39.47, 0.00), (39.53, -0.06),
    (39.58, 0.06), (39.64, 0.00), (39.69, 0.09), (39.75, -0.06), (39.80, -0.06), (39.86, -0.17), (39.91, -0.23),
    (39.97, -0.23), (40.02, 0.17), (40.08, 0.20), (40.13, 0.26), (40.19, 0.32), (40.24, 0.38), (40.30, 0.29),
    (40.35, 0.14), (40.41, 0.06), (40.46, 0.00), (40.52, -0.06), (40.57, -0.17), (40.63, -0.29), (40.68, -0.17),
    (40.74, -0.12), (40.79, -0.06), (40.85, -0.20), (40.90, -0.12), (40.96, -0.06), (41.01, 0.06), (41.07, 0.17),
    (41.12, 0.29), (41.18, 0.35), (41.23, 0.41), (41.29, 0.29), (41.34, 0.23), (41.40, -0.06), (41.45, -0.17),
    (41.51, -0.29), (41.56, -0.17), (41.62, -0.06), (41.67, -0.03), (41.73, -0.12), (41.78, 0.00), (41.84, -0.06),
    (41.89, 0.00), (41.95, 0.06), (42.00, 0.00), (42.06, 0.12), (42.11, 0.00), (42.17, 0.26), (42.22, 0.00),
    (42.28, -0.06), (42.33, -0.09), (42.39, -0.06), (42.44, -0.06), (42.50, -0.03), (42.55, 0.03), (42.61, 0.06),
    (42.66, 0.09), (42.72, 0.14), (42.77, 0.20),
]
vel_42_57 = [
    (42.79, 0.17), (42.87, 0.09), (42.92, 0.12), (42.98, 0.00), (43.04, -0.14), (43.09, 0.00), (43.15, -0.12),
    (43.20, 0.00), (43.26, 0.12), (43.31, 0.17), (43.39, 0.38), (43.44, 0.17), (43.50, 0.26), (43.56, 0.23),
    (43.61, 0.06), (43.67, 0.06), (43.72, -0.06), (43.78, -0.14), (43.83, -0.23), (43.89, -0.41), (43.95, -0.35),
    (44.00, -0.35), (44.06, -0.23), (44.11, 0.06), (44.17, 0.09), (44.22, 0.12), (44.28, 0.17), (44.34, 0.43),
    (44.37, 0.06), (44.41, 0.41), (44.47, 0.29), (44.52, 0.26), (44.58, 0.17), (44.63, 0.20), (44.69, 0.17),
    (44.74, 0.14), (44.80, 0.00), (44.86, -0.14), (44.91, -0.17), (44.97, -0.46), (45.02, -0.17), (45.08, 0.12),
    (45.13, 0.14), (45.19, 0.23), (45.25, 0.26), (45.30, 0.17), (45.36, 0.06), (45.41, -0.17), (45.47, -0.26),
    (45.52, -0.23), (45.58, -0.26), (45.64, -0.12), (45.69, -0.26), (45.75, -0.06), (45.80, 0.12), (45.86, 0.17),
    (45.91, 0.20), (45.97, 0.23), (46.03, 0.09), (46.08, 0.20), (46.14, 0.12), (46.19, 0.23), (46.25, 0.29),
    (46.30, 0.17), (46.36, 0.06), (46.42, -0.06), (46.47, -0.26), (46.53, 0.00), (46.58, 0.14), (46.64, -0.12),
    (46.69, -0.14), (46.75, -0.12), (46.81, -0.20), (46.86, -0.14), (46.92, -0.12), (46.97, -0.23), (47.03, 0.09),
    (47.08, 0.17), (47.14, 0.20), (47.20, 0.06), (47.25, -0.17), (47.31, -0.20), (47.36, -0.03), (47.42, 0.03),
    (47.47, 0.09), (47.53, 0.17), (47.59, 0.26), (47.64, 0.29), (47.70, 0.23), (47.75, 0.20), (47.81, 0.14),
    (47.86, 0.09), (47.92, -0.06), (47.98, -0.12), (48.03, -0.03), (48.09, -0.14), (48.14, 0.09), (48.20, 0.00),
    (48.25, -0.06), (48.31, -0.35), (48.37, -0.17), (48.42, -0.06), (48.48, 0.00), (48.53, -0.14), (48.59, -0.20),
    (48.64, -0.12), (48.70, 0.12), (48.76, 0.20), (48.81, 0.14), (48.87, 0.12), (48.92, 0.14), (48.98, 0.09),
    (49.03, 0.12), (49.09, 0.06), (49.15, 0.12), (49.20, 0.06), (49.26, -0.14), (49.31, 0.00), (49.37, 0.03),
    (49.42, 0.06), (49.48, 0.12), (49.54, 0.17), (49.59, 0.09), (49.65, 0.00), (49.70, 0.09), (49.76, -0.06),
    (49.81, 0.06), (49.87, 0.06), (49.93, 0.03), (49.98, -0.14), (50.04, 0.00), (50.09, 0.09), (50.15, 0.00),
    (50.20, -0.12), (50.26, -0.06), (50.32, 0.00), (50.37, 0.12), (50.43, 0.17), (50.48, 0.14), (50.54, 0.20),
    (50.59, 0.17), (50.65, 0.26), (50.71, 0.23), (50.76, 0.09), (50.82, 0.00), (50.87, -0.03), (50.93, 0.00),
    (50.98, -0.17), (51.04, -0.17), (51.10, -0.12), (51.15, 0.00), (51.21, 0.12), (51.26, 0.17), (51.32, 0.12),
    (51.37, -0.06), (51.43, -0.14), (51.49, -0.06), (51.54, 0.09), (51.60, 0.12), (51.65, 0.03), (51.71, -0.03),
    (51.76, 0.06), (51.82, 0.17), (51.88, 0.06), (51.93, 0.00), (51.99, 0.06), (52.04, 0.20), (52.10, 0.06),
    (52.15, 0.00), (52.21, -0.06), (52.27, -0.12), (52.32, -0.09), (52.38, -0.06), (52.43, -0.03), (52.49, 0.00),
    (52.54, 0.03), (52.60, 0.09), (52.66, 0.00), (52.71, 0.12), (52.77, 0.20), (52.82, 0.17), (52.88, 0.23),
    (52.93, 0.12), (52.99, 0.00), (53.04, -0.06), (53.10, -0.12), (53.16, -0.14), (53.21, -0.17), (53.27, -0.20),
    (53.32, -0.17), (53.38, 0.12), (53.43, 0.14), (53.49, 0.12), (53.55, -0.17), (53.60, 0.00), (53.66, 0.03),
    (53.71, 0.09), (53.77, 0.17), (53.82, 0.26), (53.88, 0.12), (53.94, 0.06), (53.99, -0.12), (54.05, -0.03),
    (54.10, -0.23), (54.16, -0.12), (54.21, -0.06), (54.27, -0.03), (54.33, 0.00), (54.38, 0.09), (54.44, 0.26),
    (54.49, 0.12), (54.55, 0.00), (54.60, -0.06), (54.66, -0.12), (54.72, -0.03), (54.77, -0.06), (54.83, -0.14),
    (54.88, 0.00), (54.94, -0.03), (54.99, 0.03), (55.05, 0.00), (55.11, 0.14), (55.16, 0.20), (55.22, 0.12),
    (55.27, 0.00), (55.33, 0.12), (55.38, 0.12), (55.44, 0.17), (55.50, 0.09), (55.55, -0.06), (55.61, -0.14),
    (55.66, -0.09), (55.72, -0.12), (55.77, -0.06), (55.83, -0.06), (55.89, 0.12), (55.94, 0.17), (56.00, 0.23),
    (56.05, 0.26), (56.11, 0.12), (56.16, 0.09), (56.22, 0.00), (56.28, -0.14), (56.33, -0.17), (56.39, 0.09),
    (56.44, 0.14), (56.50, 0.14), (56.55, 0.12), (56.61, 0.09), (56.67, 0.06), (56.72, 0.00), (56.78, -0.06),
    (56.83, -0.17), (56.89, -0.29), (56.95, -0.14), (57.00, -0.26),
]

# displacement, in units of 0.001 cm
disp_0_19 = [
    (0.06, -0.11), (0.15, 0.41), (0.22, 0.02), (0.27, 0.42), (0.31, -0.10), (0.37, 0.43), (0.43, -0.21),
    (0.49, 0.31), (0.62, -0.39), (0.68, -0.17), (0.76, -0.72), (0.82, -0.15), (0.89, -0.41), (0.98, 0.13),
    (1.08, -0.03), (1.17, 0.55), (1.25, -0.36), (1.32, -0.01), (1.35, -0.69), (1.41, -0.29), (1.48, -0.83),
    (1.54, -0.17), (1.62, -0.50), (1.69, 0.53), (1.73, -0.29), (1.78, 0.81), (1.85, 0.07), (1.88, 0.78),
    (1.93, -0.16), (1.98, 0.60), (2.05, -0.63), (2.12, -0.38), (2.19, 0.13), (2.26, -0.36), (2.31, 1.16),
    (2.37, 0.28), (2.46, 1.49), (2.52, 1.24), (2.56, 0.49), (2.62, 0.87), (2.66, 0.30), (2.71, 0.62),
    (2.83, -0.47), (2.89, 0.07), (2.95, -0.17), (3.01, 0.11), (3.05, -0.50), (3.11, 0.51), (3.17, -0.87),
    (3.23, 0.06), (3.28, -0.69), (3.32, 0.36), (3.37, -0.31), (3.43, 0.59), (3.49, -0.36), (3.58, -1.17),
    (3.65, -0.81), (3.73, -0.01), (3.81, 0.46), (3.91, 0.56), (4.00, 0.77), (4.06, 0.70), (4.12, 0.03),
    (4.21, -0.40), (4.27, 0.03), (4.33, -0.36), (4.38, -0.20), (4.43, -0.76), (4.50, 0.02), (4.55, -0.69),
    (4.61, -0.15), (4.67, -1.14), (4.75, -0.76), (4.82, -0.16), (4.88, -0.47), (4.94, 0.48), (5.02, 0.34),
    (5.12, -1.03), (5.18, -0.82), (5.24, -1.15), (5.33, -0.31), (5.41, -0.19), (5.47, 0.26), (5.54, -0.17),
    (5.60, 0.44), (5.66, 0.22), (5.72, 1.07), (5.78, 0.76), (5.84, 1.77), (5.93, 1.07), (5.97, 1.01),
    (6.03, 0.08), (6.08, 0.69), (6.15, -0.20), (6.21, -0.03), (6.27, -0.22), (6.33, 0.37), (6.40, 0.63),
    (6.46, -0.29), (6.56, -0.54), (6.64, -0.92), (6.77, -0.11), (6.84, -0.10), (6.95, 0.81), (7.01, 0.25),
    (7.07, 0.49), (7.11, 0.25), (7.17, 0.48), (7.27, -0.29), (7.34, -0.47), (7.42, 0.11), (7.50, -0.08),
    (7.59, -0.25), (7.69, 0.49), (7.77, 0.58), (7.87, 0.45), (8.02, -0.13), (8.12, -0.76), (8.18, -0.57),
    (8.24, -0.17), (8.34, 0.40), (8.44, 1.04), (8.52, 0.53), (8.60, -0.24), (8.67, -0.78), (8.73, -0.69),
    (8.79, -0.16), (8.86, 0.53), (8.92, 0.68), (9.00, 0.50), (9.07, 0.59), (9.13, 0.25), (9.20, 0.35),
    (9.25, -0.01), (9.32, -0.45), (9.41, -0.34), (9.47, -0.76), (9.56, -0.97), (9.62, -0.44), (9.72, 0.48),
    (9.80, 0.81), (9.86, 0.78), (9.91, 0.91), (9.99, 0.49), (10.06, 0.48), (10.15, -0.44), (10.21, -1.09),
    (10.28, -1.10), (10.37, -0.75), (10.46, -0.40), (10.55, -0.30), (10.64, 0.30), (10.70, 0.20), (10.76, 0.40),
    (10.82, 0.04), (10.87, 0.12), (10.92, -0.19), (11.01, 0.55), (11.08, 0.77), (11.17, -0.08), (11.27, -0.59),
    (11.34, -0.13), (11.44, 0.40), (11.51, 0.50), (11.59, 0.25), (11.69, -0.16), (11.75, -0.08), (11.81, 0.03),
    (11.87, -0.11), (11.93, -0.34), (12.03, -0.08), (12.13, 0.18), (12.20, -0.08), (12.26, -0.21), (12.36, 0.45),
    (12.42, 0.56), (12.51, 0.12), (12.57, 0.08), (12.67, -0.52), (12.77, -0.16), (12.85, 0.15), (12.92, 0.27),
    (13.00, 0.35), (13.08, 0.04), (13.16, -0.01), (13.22, 0.04), (13.28, 0.49), (13.36, 0.42), (13.41, 0.59),
    (13.51, 0.44), (13.60, -0.11), (13.69, -1.08), (13.78, -0.26), (13.86, 0.25), (13.96, 0.44), (14.02, 0.07),
    (14.10, -0.29), (14.21, -0.01), (14.29, 0.23), (14.37, 0.18), (14.43, 0.13), (14.49, 0.31), (14.58, 0.04),
    (14.67, -0.62), (14.76, -0.44), (14.88, 0.17), (14.98, 0.35), (15.07, 0.65), (15.17, 0.97), (15.25, 0.83),
    (15.35, 0.07), (15.44, -0.47), (15.52, -0.66), (15.62, -0.29), (15.70, -0.24), (15.78, -0.34), (15.87, -0.25),
    (15.97, -0.03), (16.06, 0.12), (16.14, 0.59), (16.21, 0.76), (16.30, 0.58), (16.38, -0.01), (16.46, -0.16),
    (16.54, -0.61), (16.63, -0.80), (16.73, -0.72), (16.83, -0.11), (16.93, 0.07), (17.01, 0.60), (17.10, 0.98),
    (17.20, 0.78), (17.28, 0.76), (17.34, 0.45), (17.44, -0.13), (17.53, -0.44), (17.61, -0.75), (17.68, -0.91),
    (17.77, -0.54), (17.86, -0.01), (17.93, -0.13), (18.02, 0.11), (18.13, -0.07), (18.22, 0.03), (18.29, -0.12),
    (18.39, -0.57), (18.45, -0.87), (18.57, -0.13), (18.67, 0.68), (18.76, 1.04), (18.84, 0.83), (18.97, -0.08),
    (19.07, -0.16), (19.14, -0.29),
]
disp_19_38 = [
    (19.19, -0.45), (19.26, -0.36), (19.35, -0.21), (19.44, -0.02), (19.51, 0.26), (19.60, 0.49), (19.68, 0.56),
    (19.78, 0.56), (19.88, -0.11), (20.03, -0.41), (20.11, -0.59), (20.19, -0.57), (20.22, -0.75), (20.32, -0.76),
    (20.40, -0.44), (20.45, -0.12), (20.52, -0.07), (20.61, -0.21), (20.68, -0.11), (20.74, -0.08), (20.79, 0.06),
    (20.86, 0.30), (20.95, 0.36), (21.01, 0.36), (21.07, 0.39), (21.13, 0.22), (21.20, 0.27), (21.26, 0.18),
    (21.32, 0.32), (21.38, 0.18), (21.44, 0.12), (21.50, 0.27), (21.56, 0.27), (21.65, 0.59), (21.71, 0.63),
    (21.77, 0.54), (21.87, 0.02), (21.93, -0.30), (22.02, -0.82), (22.09, -0.89), (22.18, -0.34), (22.27, 0.32),
    (22.36, 0.68), (22.45, 0.48), (22.55, -0.26), (22.61, -0.34), (22.67, -0.34), (22.76, 0.04), (22.83, 0.35),
    (22.92, 0.46), (22.98, 0.58), (23.07, 0.22), (23.16, -0.26), (23.24, -0.64), (23.30, -0.57), (23.41, 0.02),
    (23.50, 0.25), (23.59, 0.76), (23.67, 0.88), (23.74, 0.63), (23.84, 0.37), (23.94, -0.06), (24.02, -0.26),
    (24.09, -0.33), (24.17, -0.47), (24.23, -0.89), (24.31, -0.94), (24.37, -1.00), (24.45, -0.87), (24.52, -0.67),
    (24.60, -0.41), (24.70, 0.07), (24.77, 0.37), (24.87, 0.49), (24.92, 0.41), (25.01, 0.27), (25.07, 0.20),
    (25.13, -0.13), (25.22, -0.44), (25.32, -0.41), (25.35, -0.06), (25.40, -0.02), (25.46, 0.06), (25.56, 0.08),
    (25.64, -0.08), (25.71, -0.10), (25.77, 0.07), (25.83, 0.09), (25.91, 0.42), (25.99, 0.60), (26.05, 0.68),
    (26.12, 0.76), (26.18, 0.68), (26.28, 0.25), (26.36, -0.26), (26.45, -0.76), (26.52, -0.79), (26.61, -0.69),
    (26.71, -0.44), (26.79, -0.19), (26.89, 0.04), (26.98, 0.06), (27.06, 0.11), (27.14, 0.22), (27.23, 0.32),
    (27.32, 0.20), (27.41, -0.03), (27.51, -0.21), (27.59, -0.11), (27.68, 0.04), (27.75, 0.13), (27.80, 0.16),
    (27.90, 0.12), (27.96, 0.07), (28.02, 0.17), (28.12, 0.42), (28.17, 0.45), (28.27, 0.25), (28.33, 0.07),
    (28.39, -0.24), (28.46, -0.29), (28.54, -0.16), (28.61, 0.02), (28.69, 0.17), (28.76, 0.12), (28.83, -0.06),
    (28.91, -0.22), (28.98, -0.27), (29.07, -0.16), (29.13, 0.02), (29.19, 0.42), (29.28, 0.62), (29.35, 0.53),
    (29.44, 0.15), (29.52, -0.29), (29.62, -0.36), (29.70, -0.25), (29.74, -0.06), (29.82, 0.07), (29.90, -0.02),
    (29.97, -0.08), (30.04, -0.17), (30.11, -0.17), (30.19, -0.13), (30.26, -0.03), (30.33, 0.05), (30.42, 0.17),
    (30.48, 0.32), (30.56, 0.32), (30.63, 0.37), (30.70, 0.39), (30.77, 0.32), (30.85, -0.03), (30.95, -0.44),
    (31.04, -0.62), (31.10, -0.63), (31.17, -0.59), (31.26, -0.34), (31.34, 0.15), (31.42, 0.32), (31.49, 0.40),
    (31.56, 0.27), (31.63, -0.03), (31.71, -0.39), (31.77, -0.54), (31.83, -0.49), (31.90, -0.41), (31.96, -0.16),
    (32.04, 0.17), (32.12, 0.50), (32.20, 0.68), (32.28, 0.65), (32.35, 0.83), (32.43, 0.68), (32.50, 0.48),
    (32.57, 0.02), (32.67, -0.29), (32.76, -0.44), (32.84, -0.57), (32.94, -0.73), (33.04, -0.54), (33.13, -0.19),
    (33.23, 0.11), (33.31, 0.12), (33.41, 0.13), (33.50, 0.15), (33.56, 0.20), (33.63, 0.45), (33.72, 0.60),
    (33.80, 0.42), (33.90, -0.16), (33.99, -0.49), (34.07, -0.54), (34.17, -0.68), (34.27, -0.49), (34.37, -0.16),
    (34.48, 0.17), (34.57, 0.40), (34.64, 0.42), (34.73, 0.25), (34.79, 0.22), (34.86, 0.22), (34.93, 0.16),
    (35.01, 0.20), (35.11, 0.09), (35.18, -0.11), (35.25, -0.22), (35.33, -0.21), (35.40, -0.13), (35.50, -0.25),
    (35.59, -0.03), (35.65, 0.07), (35.72, 0.09), (35.81, 0.04), (35.89, -0.19), (35.97, -0.21), (36.04, -0.16),
    (36.14, -0.13), (36.24, -0.08), (36.32, 0.04), (36.41, 0.15), (36.51, 0.18), (36.57, 0.18), (36.63, 0.04),
    (36.71, -0.11), (36.78, -0.12), (36.85, -0.03), (36.94, 0.25), (37.00, 0.37), (37.10, 0.50), (37.17, 0.48),
    (37.25, 0.42), (37.31, 0.35), (37.37, 0.22), (37.44, 0.09), (37.52, 0.02), (37.59, 0.07), (37.64, 0.17),
    (37.71, 0.22), (37.76, 0.16), (37.81, 0.04), (37.89, -0.03), (37.96, -0.07), (38.05, -0.08), (38.13, -0.11),
]
disp_38_57 = [
    (38.20, -0.11), (38.27, -0.16), (38.33, -0.24), (38.41, -0.27), (38.50, -0.34), (38.57, -0.27), (38.66, -0.19),
    (38.75, -0.03), (38.84, -0.01), (38.94, 0.07), (39.03, 0.17), (39.11, 0.32), (39.19, 0.30), (39.24, 0.31),
    (39.31, 0.25), (39.40, 0.17), (39.46, 0.08), (39.55, 0.04), (39.62, -0.01), (39.71, 0.01), (39.79, -0.08),
    (39.89, -0.29), (39.95, -0.39), (40.02, -0.44), (40.11, -0.36), (40.20, -0.13), (40.28, 0.12), (40.36, 0.27),
    (40.44, 0.32), (40.53, 0.26), (40.62, 0.12), (40.71, -0.11), (40.81, -0.21), (40.91, -0.34), (41.01, -0.41),
    (41.08, -0.34), (41.16, -0.08), (41.24, 0.18), (41.30, 0.22), (41.37, 0.25), (41.43, 0.22), (41.50, 0.07),
    (41.57, -0.11), (41.67, -0.15), (41.77, -0.21), (41.87, -0.22), (41.97, -0.21), (42.04, -0.13), (42.10, -0.08),
    (42.19, 0.04), (42.26, 0.09), (42.33, 0.03), (42.39, -0.05), (42.47, -0.10), (42.57, -0.13), (42.66, -0.11),
    (42.73, -0.06), (42.82, 0.07), (42.90, 0.12), (43.00, 0.17), (43.08, 0.12), (43.15, 0.02), (43.22, -0.02),
    (43.30, 0.02), (43.37, 0.07), (43.44, 0.27), (43.52, 0.37), (43.58, 0.42), (43.67, 0.40), (43.74, 0.31),
    (43.81, 0.22), (43.89, 0.02), (43.96, -0.24), (44.05, -0.44), (44.15, -0.55), (44.23, -0.41), (44.32, -0.24),
    (44.40, -0.01), (44.48, 0.17), (44.56, 0.32), (44.65, 0.40), (44.72, 0.45), (44.80, 0.46), (44.87, 0.35),
    (44.94, 0.07), (45.02, -0.19), (45.09, -0.20), (45.18, -0.03), (45.26, 0.17), (45.34, 0.27), (45.41, 0.28),
    (45.49, 0.15), (45.56, -0.03), (45.63, -0.24), (45.70, -0.34), (45.76, -0.38), (45.83, -0.26), (45.92, -0.11),
    (46.00, 0.07), (46.10, 0.17), (46.17, 0.27), (46.26, 0.37), (46.35, 0.42), (46.42, 0.32), (46.51, 0.27),
    (46.57, 0.17), (46.64, 0.12), (46.72, -0.03), (46.81, -0.21), (46.90, -0.31), (46.96, -0.30), (47.02, -0.40),
    (47.11, -0.31), (47.21, -0.21), (47.27, -0.24), (47.36, -0.36), (47.43, -0.36), (47.52, -0.31), (47.60, -0.16),
    (47.68, 0.07), (47.76, 0.27), (47.85, 0.35), (47.92, 0.41), (48.01, 0.25), (48.09, 0.12), (48.17, 0.12),
    (48.25, 0.04), (48.32, -0.16), (48.40, -0.27), (48.48, -0.27), (48.56, -0.30), (48.66, -0.38), (48.73, -0.29),
    (48.81, -0.13), (48.89, -0.03), (48.98, 0.07), (49.05, 0.08), (49.13, 0.13), (49.20, 0.12), (49.27, 0.04),
    (49.36, 0.03), (49.45, 0.07), (49.52, 0.13), (49.61, 0.14), (49.69, 0.11), (49.77, 0.09), (49.85, -0.01),
    (49.94, 0.06), (50.01, -0.03), (50.10, -0.12), (50.20, -0.13), (50.28, -0.27), (50.37, -0.31), (50.46, -0.19),
    (50.53, -0.03), (50.62, 0.09), (50.68, 0.17), (50.75, 0.25), (50.84, 0.25), (50.92, 0.20), (51.02, 0.07),
    (51.09, -0.06), (51.18, -0.05), (51.27, 0.07), (51.37, 0.13), (51.45, 0.02), (51.54, -0.03), (51.64, 0.04),
    (51.71, 0.08), (51.80, 0.04), (51.88, 0.11), (51.96, 0.07), (52.03, 0.08), (52.10, 0.20), (52.16, 0.22),
    (52.25, 0.17), (52.33, 0.04), (52.41, -0.02), (52.50, -0.07), (52.58, -0.08), (52.67, -0.07), (52.74, -0.03),
    (52.82, 0.07), (52.89, 0.18), (52.99, 0.21), (53.07, 0.15), (53.17, 0.04), (53.26, -0.11), (53.36, -0.21),
    (53.43, -0.13), (53.51, -0.06), (53.58, -0.13), (53.67, -0.11), (53.75, -0.08), (53.83, -0.01), (53.90, 0.13),
    (53.97, 0.18), (54.05, 0.11), (54.12, -0.03), (54.19, -0.13), (54.27, -0.15), (54.34, -0.19), (54.42, -0.11),
    (54.49, 0.02), (54.56, 0.08), (54.64, 0.03), (54.71, -0.06), (54.81, -0.11), (54.90, -0.19), (54.98, -0.25),
    (55.08, -0.24), (55.17, -0.13), (55.25, -0.02), (55.33, 0.02), (55.40, 0.07), (55.47, 0.15), (55.53, 0.19),
    (55.61, 0.11), (55.69, -0.03), (55.78, -0.11), (55.85, -0.18), (55.94, -0.13), (56.01, 0.02), (56.09, 0.16),
    (56.19, 0.17), (56.26, 0.09), (56.33, 0.07), (56.40, 0.01), (56.48, 0.08), (56.56, 0.15), (56.63, 0.18),
    (56.70, 0.17), (56.78, 0.07), (56.86, -0.03), (56.92, -0.21), (56.99, -0.33),
]


def series(*parts, scale=1.0):
    pts = [p for part in parts for p in part]
    t = np.array([p[0] for p in pts])
    y = np.array([p[1] for p in pts]) * scale
    return t, y


acc_t, acc = series(acc_0_14, acc_14_28, acc_28_42, acc_42_57)
vel_t, vel = series(vel_0_14, vel_14_28, vel_28_42, vel_42_57, scale=0.01)
disp_t, disp = series(disp_0_19, disp_19_38, disp_38_57, scale=0.001)

fig, axes = plt.subplots(3, 1, figsize=(12, 8), dpi=300)
fig.subplots_adjust(left=0.0836, right=0.9867, bottom=0.0788, top=0.9655, hspace=0.332)

panels = [
    (acc_t, acc, "k", "Acceleration (cm/s/s)", [-2, 0, 2]),
    (vel_t, vel, "b", "Velocity (cm/s)", [-0.04, -0.02, 0.0, 0.02, 0.04]),
    (disp_t, disp, "r", "Displacement (cm)", [-0.001, 0.0, 0.001]),
]
for ax, (t, y, c, label, ticks) in zip(axes, panels):
    ax.plot(t, y, color=c, lw=1.5)
    lim = 1.1 * np.abs(y).max()
    ax.set_ylim(-lim, lim)
    ax.set_xlim(0, 57)
    ax.set_yticks(ticks)
    ax.set_xlabel("Time (s)", fontsize=14)
    ax.set_ylabel(label, fontsize=14)
    ax.grid(True)

fig.savefig("out.png", dpi=300)
